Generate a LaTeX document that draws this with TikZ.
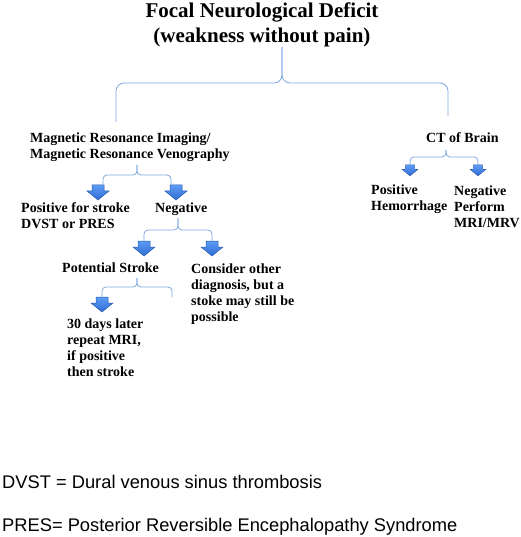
\documentclass[tikz,border=0pt]{standalone}
\usepackage{fontspec}
\setmainfont{Liberation Serif}
\newfontfamily\notefont{Liberation Sans}
\definecolor{bracecol}{HTML}{7EA6E0}
\definecolor{arrowtop}{HTML}{5C9CF5}
\definecolor{arrowbot}{HTML}{2F6CD4}
\definecolor{arrowedge}{HTML}{2A5BB0}

\begin{document}
\begin{tikzpicture}[x=1pt,y=-1pt,
  brace/.style={draw=bracecol,line width=0.8pt,rounded corners=4pt},
  bigbrace/.style={brace,rounded corners=8pt},
  lbl/.style={anchor=base west,inner sep=0pt,align=left,font=\fontsize{14}{16}\selectfont\bfseries},
  note/.style={anchor=base west,inner sep=0pt,font=\fontsize{18.3}{20}\selectfont\notefont},
  pics/downarrow/.style={code={
    \coordinate (-top) at (0,0);
    \shade[top color=arrowtop,bottom color=arrowbot,draw=arrowedge,line width=0.5pt]
      (-6,0) -- (6,0) -- (6,6) -- (11,6) -- (0,15) -- (-11,6) -- (-6,6) -- cycle;}}]
  \useasboundingbox (0,0) rectangle (520,537);

  % texts (base = last line)
  \node[anchor=base,inner sep=0pt,align=center,font=\fontsize{21}{25}\selectfont\bfseries] (title) at (262,43) {Focal Neurological Deficit\\(weakness without pain)};
  \node[lbl] (mri) at (30,159) {Magnetic Resonance Imaging/\\Magnetic Resonance Venography};
  \node[lbl] (ct) at (426,143) {CT of Brain};
  \node[lbl] (posstroke) at (21,228) {Positive for stroke\\DVST or PRES};
  \node[lbl] (neg) at (155,212) {Negative};
  \node[lbl] (ctpos) at (371,211) {Positive\\Hemorrhage};
  \node[lbl] (ctneg) at (454,227) {Negative\\Perform\\MRI/MRV};
  \node[lbl] (potential) at (62,272) {Potential Stroke};
  \node[lbl] (consider) at (191,321) {Consider other\\diagnosis, but a\\stoke may still be\\possible};
  \node[lbl] (repeat) at (67,376) {30 days later\\repeat MRI,\\if positive\\then stroke};
  \node[note] (dvst) at (2,488) {DVST = Dural venous sinus thrombosis};
  \node[note] (pres) at (2,531) {PRES= Posterior Reversible Encephalopathy Syndrome};

  % arrows
  \pic (a1) at (98,185) {downarrow};
  \pic (a2) at (176,185) {downarrow};
  \pic (a3) at (144,241) {downarrow};
  \pic (a4) at (212,241) {downarrow};
  \pic (a5) at (102,297) {downarrow};
  \pic[scale=0.72] (a6) at (410,165) {downarrow};
  \pic[scale=0.72] (a7) at (478,165) {downarrow};

  % brace tips and ends
  \coordinate (t0) at (282,47);   \coordinate (j0) at (282,83);
  \coordinate (t1) at (137,165);  \coordinate (j1) at (137,175);
  \coordinate (t2) at (446,150);  \coordinate (j2) at (446,157);
  \coordinate (t3) at (178,218);  \coordinate (j3) at (178,230);
  \coordinate (t4) at (137,278);  \coordinate (j4) at (137,287);
  \coordinate (e0l) at (116,122); \coordinate (e0r) at (448,116);
  \coordinate (e5r) at (172,297);

  % braces
  \draw[bigbrace] (e0l) |- (j0) -- (t0);
  \draw[bigbrace] (e0r) |- (j0) -- (t0);
  \draw[brace] (a1-top -| 103,0) |- (j1) -- (t1);
  \draw[brace] (a2-top -| 171,0) |- (j1) -- (t1);
  \draw[brace] (a6-top) |- (j2) -- (t2);
  \draw[brace] (a7-top) |- (j2) -- (t2);
  \draw[brace] (a3-top) |- (j3) -- (t3);
  \draw[brace] (a4-top) |- (j3) -- (t3);
  \draw[brace] (a5-top) |- (j4) -- (t4);
  \draw[brace] (e5r) |- (j4) -- (t4);
\end{tikzpicture}
\end{document}
